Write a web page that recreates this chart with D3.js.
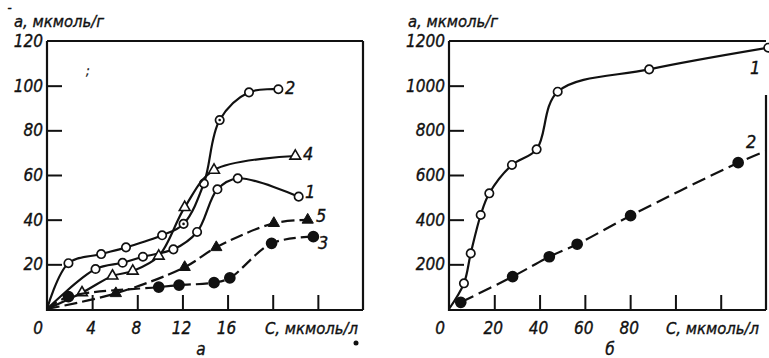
<!DOCTYPE html>
<html>
<head>
<meta charset="utf-8">
<script src="https://cdn.jsdelivr.net/npm/d3@7"></script>
<style>
  html, body { margin: 0; padding: 0; background: #fff; }
  svg { display: block; }
  text { font-family: 'DejaVu Sans Condensed', 'DejaVu Sans', sans-serif; font-style: italic; fill: #111; stroke: #111; stroke-width: 0.35px; }
  .tick line { stroke: #111; stroke-width: 2px; }
  .domain { display: none; }
</style>
</head>
<body>
<div id="chart"></div>
<script>
// panel a: C (мкмоль/л) vs a (мкмоль/г), five series
const leftXTicks = [0, 4, 8, 12, 16, 20, 24];
const leftXLabels = [0, 4, 8, 12, 16];
const leftYTicks = [20, 40, 60, 80, 100, 120];

const curve1 = [[0, 0], [4.3, 17.9], [6.7, 20.7], [8.5, 23.4], [11.2, 26.7], [13.3, 34.5], [15.1, 53.6], [16.9, 58.5], [22.3, 50.3]];
const curve2 = [[0, 0], [1.9, 20.5], [4.8, 24.6], [7.0, 27.6], [10.2, 33.0], [12.1, 38.1], [13.9, 56.2], [15.3, 84.6], [17.9, 97.0], [20.5, 98.4]];
const curve2Dotted = [12.1, 15.3]; // points drawn as circle with dot
const curve3 = [[0, 0], [1.9, 5.5], [9.9, 9.8], [11.7, 10.7], [14.8, 11.8], [16.2, 13.9], [19.9, 29.4], [23.6, 32.4]];
const curve4 = [[0, 0], [3.1, 7.3], [5.8, 14.8], [7.6, 17.0], [9.9, 23.7], [12.2, 45.5], [14.8, 62.2], [22.0, 68.5]];
const curve5 = [[0, 0], [6.1, 7.0], [12.2, 18.7], [15.0, 27.6], [20.1, 38.4], [23.1, 39.9]];

// panel б: two series
const rightXTicks = [0, 20, 40, 60, 80, 100, 120];
const rightXLabels = [0, 20, 40, 60, 80];
const rightYTicks = [200, 400, 600, 800, 1000, 1200];

const rCurve1 = [[0, 0], [6.6, 115], [9.6, 249], [14.0, 421], [17.8, 518], [27.8, 645], [38.7, 715], [48.0, 973], [88.4, 1073], [141, 1170]];
const rCurve2 = [[5.2, 30], [28.1, 145], [44.3, 234], [56.6, 290], [80.2, 418], [127.7, 655], [140, 708]];
const rCurve2NoMarker = [140];

const W = 769, H = 358;
const svg = d3.select("#chart").append("svg").attr("width", W).attr("height", H);

function drawPanel(opt) {
    const x = d3.scaleLinear().domain(opt.xDomain).range(opt.xRange);
    const y = d3.scaleLinear().domain(opt.yDomain).range([309, 41]);
    const g = svg.append("g");

    // inner ticks
    g.append("g")
        .attr("transform", "translate(0,309)")
        .call(d3.axisBottom(x).tickValues(opt.xTicks.slice(1)).tickSizeInner(-14).tickSizeOuter(0).tickFormat(""));
    g.append("g")
        .attr("transform", `translate(${opt.xRange[0]},0)`)
        .call(d3.axisLeft(y).tickValues(opt.yTicks.slice(0, -1)).tickSizeInner(-15).tickSizeOuter(0).tickFormat(""));

    // frame
    const x0 = opt.xRange[0], x1 = opt.xRange[1];
    const frame = d3.path();
    frame.moveTo(x0, 41); frame.lineTo(x0, 310); frame.lineTo(x1, 310);
    frame.moveTo(x0, 41); frame.lineTo(opt.topEnd, 41);
    frame.moveTo(x1, opt.rightTop); frame.lineTo(x1, 310);
    g.append("path").attr("d", frame.toString())
        .attr("fill", "none").attr("stroke", "#111").attr("stroke-width", 2.2);

    // tick labels
    g.selectAll(".xl").data(opt.xLabels).join("text")
        .attr("x", d => x(d) - (d === 0 ? 9 : 1))
        .attr("y", 334)
        .attr("text-anchor", "middle")
        .attr("font-size", 17)
        .text(d => d);
    g.selectAll(".yl").data(opt.yTicks).join("text")
        .attr("x", x0 - 4)
        .attr("y", d => y(d) + 6)
        .attr("text-anchor", "end")
        .attr("font-size", 17)
        .text(d => d);

    g.append("text").attr("x", opt.unitX).attr("y", 334).attr("font-size", 16.5).text("C, мкмоль/л");
    g.append("text").attr("x", opt.titleX).attr("y", 27).attr("font-size", 16.5).text("а, мкмоль/г");
    g.append("text").attr("x", opt.letterX).attr("y", 355).attr("font-size", 17).attr("text-anchor", "middle").text(opt.letter);

    return { x, y, g };
}

function drawSeries(p, data, style) {
    const line = d3.line().x(d => p.x(d[0])).y(d => p.y(d[1])).curve(d3.curveCatmullRom.alpha(0.5));
    p.g.append("path").datum(data)
        .attr("d", line)
        .attr("fill", "none")
        .attr("stroke", "#111")
        .attr("stroke-width", 2.2)
        .attr("stroke-dasharray", style.dash || null);

    const pts = data.filter(d => !(d[0] === 0 && d[1] === 0) && !(style.skip || []).includes(d[0]));
    const mk = p.g.selectAll(null).data(pts).join("g")
        .attr("transform", d => `translate(${p.x(d[0])},${p.y(d[1])})`);
    if (style.marker === "circle") {
        mk.append("circle").attr("r", style.r || 4.2)
            .attr("fill", style.filled ? "#111" : "#fff")
            .attr("stroke", "#111").attr("stroke-width", 1.7);
        mk.filter(d => (style.dotted || []).includes(d[0]))
            .append("circle").attr("r", 1.3).attr("fill", "#111");
    } else {
        const tri = d3.symbol().type(d3.symbolTriangle).size(style.filled ? 55 : 50);
        mk.append("path").attr("d", tri)
            .attr("fill", style.filled ? "#111" : "#fff")
            .attr("stroke", "#111").attr("stroke-width", style.filled ? 1 : 1.6);
    }
}

function seriesLabel(p, text, px, py) {
    p.g.append("text").attr("x", px).attr("y", py).attr("font-size", 18).text(text);
}

// left panel
const left = drawPanel({
    xDomain: [0, 28], xRange: [47, 363], yDomain: [0, 120],
    xTicks: leftXTicks, xLabels: leftXLabels, yTicks: leftYTicks,
    topEnd: 363, rightTop: 41, unitX: 265, titleX: 14, letterX: 201, letter: "а"
});
drawSeries(left, curve1, { marker: "circle" });
drawSeries(left, curve2, { marker: "circle", dotted: curve2Dotted });
drawSeries(left, curve4, { marker: "triangle" });
drawSeries(left, curve5, { marker: "triangle", filled: true, dash: "13,5" });
drawSeries(left, curve3, { marker: "circle", filled: true, r: 5, dash: "12,5" });
seriesLabel(left, "2", 285, 94);
seriesLabel(left, "4", 303, 160);
seriesLabel(left, "1", 305, 198);
seriesLabel(left, "5", 316, 222);
seriesLabel(left, "3", 318, 249);

// scan marks
svg.append("text").attr("x", 86).attr("y", 75).attr("font-size", 12).text(";");
svg.append("text").attr("x", 6).attr("y", 17).attr("font-size", 12).text("¯");
svg.append("circle").attr("cx", 356).attr("cy", 343).attr("r", 2.5).attr("fill", "#111");

// right panel
const right = drawPanel({
    xDomain: [0, 140], xRange: [449, 766], yDomain: [0, 1200],
    xTicks: rightXTicks, xLabels: rightXLabels, yTicks: rightYTicks,
    topEnd: 766, rightTop: 95, unitX: 666, titleX: 408, letterX: 610, letter: "б"
});
drawSeries(right, rCurve1, { marker: "circle" });
drawSeries(right, rCurve2, { marker: "circle", filled: true, r: 5, dash: "14,6", skip: rCurve2NoMarker });
seriesLabel(right, "1", 750, 74);
seriesLabel(right, "2", 746, 148);
</script>
</body>
</html>
